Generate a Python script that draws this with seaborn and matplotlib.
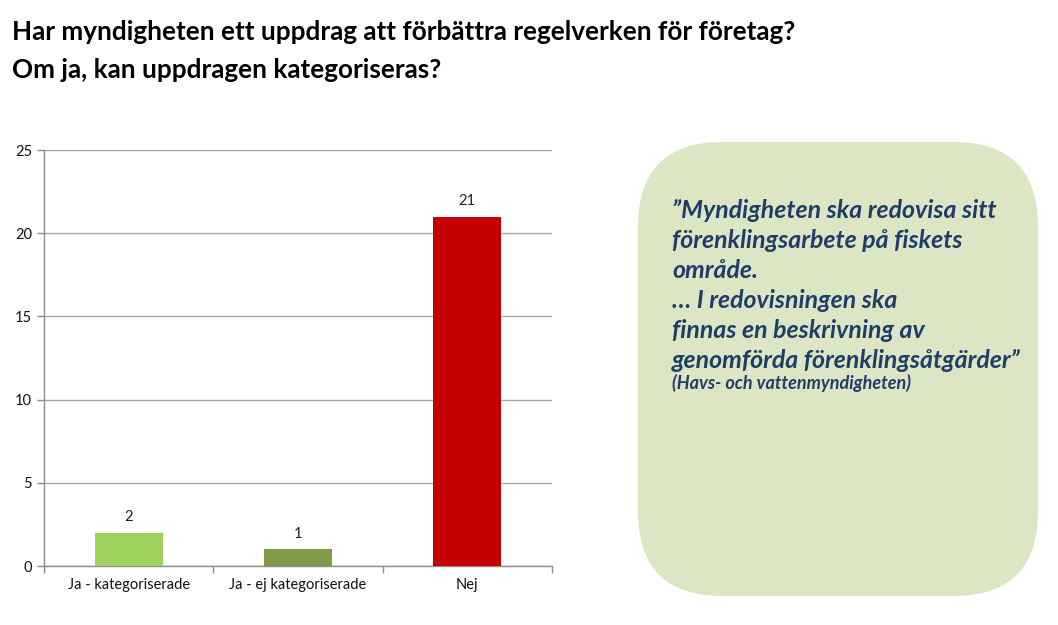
import matplotlib
matplotlib.use('Agg')
import matplotlib.pyplot as plt
import seaborn as sns
import pandas as pd
from matplotlib.patches import FancyBboxPatch

# Data
categories = ['Ja - kategoriserade', 'Ja - ej kategoriserade', 'Nej']
counts = [2, 1, 21]
colors = ['#9dd35b', '#7f9b47', '#c40000']

title_lines = ['Har myndigheten ett uppdrag att förbättra regelverken för företag?',
               'Om ja, kan uppdragen kategoriseras?']
quote_lines = ['\u201dMyndigheten ska redovisa sitt',
               'förenklingsarbete på fiskets',
               'område.',
               '\u2026 I redovisningen ska',
               'finnas en beskrivning av',
               'genomförda förenklingsåtgärder\u201d']
source = '(Havs- och vattenmyndigheten)'

df = pd.DataFrame({'kategori': categories, 'antal': counts})

sns.set_theme(style='white')
plt.rcParams['font.family'] = ['Lato', 'DejaVu Sans']

fig = plt.figure(figsize=(10.58, 6.25), dpi=100)
ax = fig.add_axes([0.0416, 0.0944, 0.480, 0.6656])

sns.barplot(data=df, x='kategori', y='antal', hue='kategori', palette=colors,
            width=0.4, saturation=1, linewidth=0, legend=False, ax=ax, zorder=3)

ax.set_ylim(0, 25)
ax.set_yticks([0, 5, 10, 15, 20, 25])
ax.set_xlim(-0.5, 2.5)
ax.yaxis.grid(True, color='#a6a6a6', linewidth=1, zorder=0)
ax.set_axisbelow(True)
ax.set_xlabel('')
ax.set_ylabel('')
for s in ['top', 'right']:
    ax.spines[s].set_visible(False)
for s in ['left', 'bottom']:
    ax.spines[s].set_color('#8c8c8c')
    ax.spines[s].set_linewidth(1)
ax.tick_params(axis='both', labelsize=10.5, colors='#8c8c8c', labelcolor='#111111',
               length=5, width=1, left=True, bottom=False)
# category separator ticks on x axis
ax.set_xticks([-0.5, 0.5, 1.5, 2.5], minor=True)
ax.tick_params(axis='x', which='minor', bottom=True, length=5, width=1, colors='#8c8c8c')

for i, v in enumerate(counts):
    ax.text(i, v + 0.5, str(v), ha='center', va='bottom', fontsize=10.5, color='#1a1a3a')

# Title
fig.text(0.011, 0.949, title_lines[0], fontsize=18.8, fontweight='bold', color='black', va='center')
fig.text(0.011, 0.888, title_lines[1], fontsize=18.8, fontweight='bold', color='black', va='center')

# Quote box
box = FancyBboxPatch((638 / 1058, 1 - 596 / 625), 400 / 1058, 454 / 625,
                     boxstyle='round,pad=0,rounding_size=0.08',
                     transform=fig.transFigure, facecolor='#dce6c4', edgecolor='none',
                     mutation_aspect=1058 / 625)
fig.patches.append(box)

y0 = 1 - 210 / 625
for k, line in enumerate(quote_lines):
    fig.text(672 / 1058, y0 - k * (30 / 625), line, fontsize=17.9, fontweight='bold',
             fontstyle='italic', color='#1f3d66', va='center')
fig.text(672 / 1058, 1 - 383 / 625, source, fontsize=13, fontweight='bold',
         fontstyle='italic', color='#1f3d66', va='center')

fig.savefig('out.png', dpi=100)
